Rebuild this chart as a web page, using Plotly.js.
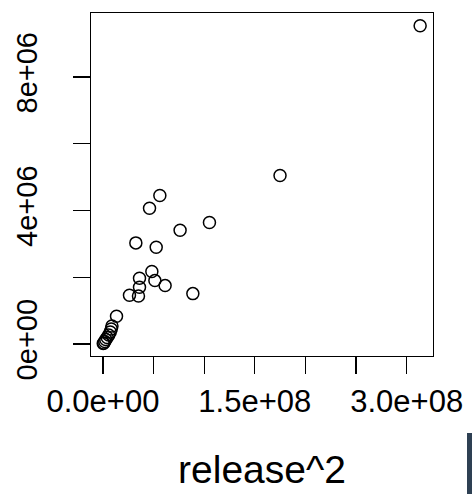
<!DOCTYPE html>
<html>
<head>
<meta charset="utf-8">
<script src="https://cdn.plot.ly/plotly-3.0.1.min.js"></script>
<style>html,body{margin:0;padding:0;background:#fff;}#plot{width:472px;height:494px;}</style>
</head>
<body>
<div id="plot"></div>
<script>
// release^2 (x) values
var release2 = [313.3e6, 174.9e6, 56.2e6, 46.0e6, 105.2e6, 76.2e6, 32.5e6, 52.6e6, 48.3e6, 36.1e6,
  51.3e6, 61.4e6, 36.1e6, 26.2e6, 35.1e6, 88.8e6, 13.4e6, 8.9e6, 8.2e6, 7.2e6,
  5.7e6, 4.2e6, 2.8e6, 1.8e6, 0.8e6, 0.3e6];
// response (y) values
var yvals = [9.54e6, 5.05e6, 4.45e6, 4.07e6, 3.64e6, 3.41e6, 3.03e6, 2.90e6, 2.17e6, 1.97e6,
  1.90e6, 1.75e6, 1.70e6, 1.46e6, 1.44e6, 1.51e6, 0.83e6, 0.54e6, 0.45e6, 0.36e6,
  0.27e6, 0.195e6, 0.135e6, 0.075e6, 0.03e6, 0.015e6];
var xTickVals = [0, 0.5e8, 1e8, 1.5e8, 2e8, 2.5e8, 3e8];
var xTickText = ["0.0e+00", "", "", "1.5e+08", "", "", "3.0e+08"];
var yTickVals = [0, 2e6, 4e6, 6e6, 8e6];
var yTickText = ["0e+00", "", "4e+06", "", "8e+06"];

var font = "Liberation Sans, Arial, sans-serif";
var trace = {
  x: release2, y: yvals, type: "scatter", mode: "markers",
  marker: {symbol: "circle-open", size: 12, color: "#000", line: {width: 1.5, color: "#000"}},
  hoverinfo: "skip"
};
var layout = {
  width: 472, height: 494,
  margin: {l: 91, r: 39, t: 13, b: 138, pad: 0},
  paper_bgcolor: "#fff", plot_bgcolor: "#fff",
  showlegend: false,
  font: {family: font, color: "#000"},
  xaxis: {
    range: [-1.18e7, 3.26e8], tickmode: "array", tickvals: xTickVals, ticktext: xTickText,
    ticks: "outside", ticklen: 17, tickwidth: 1.3, tickcolor: "#000",
    showgrid: false, zeroline: false, showline: true, mirror: true, linecolor: "#000", linewidth: 1.3,
    tickfont: {size: 31, family: font, color: "#000"},
    title: {text: "release^2", font: {size: 39, family: font, color: "#000"}, standoff: 38},
    automargin: false
  },
  yaxis: {
    range: [-0.36e6, 9.92e6], tickmode: "array", tickvals: yTickVals, ticktext: yTickText,
    ticks: "outside", ticklen: 17, tickwidth: 1.3, tickcolor: "#000", tickangle: -90,
    ticklabelstandoff: 24,
    showgrid: false, zeroline: false, showline: true, mirror: true, linecolor: "#000", linewidth: 1.3,
    tickfont: {size: 29, family: font, color: "#000"},
    automargin: false
  }
};
// small dark panel edge at the bottom-right corner of the picture
layout.shapes = [{type: "rect", xref: "paper", yref: "paper",
  x0: (467 - 91) / 342, x1: (473 - 91) / 342, y0: -138 / 343, y1: -(433 - 356) / 343,
  fillcolor: "#2e4053", line: {width: 0}}];
Plotly.newPlot("plot", [trace], layout, {staticPlot: true, displayModeBar: false});
</script>
</body>
</html>
